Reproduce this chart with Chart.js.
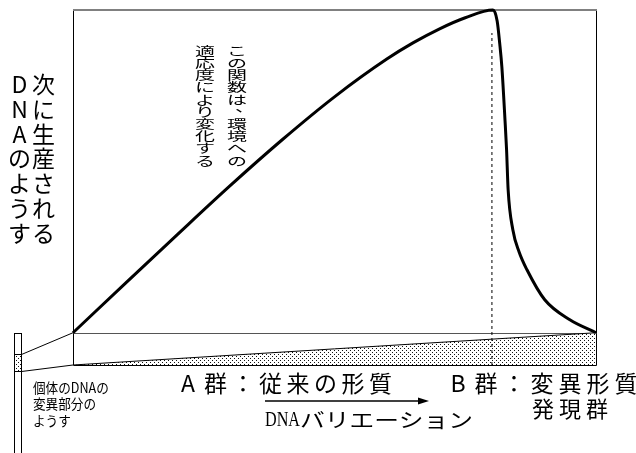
<!DOCTYPE html>
<html><head><meta charset="utf-8">
<script src="https://cdn.jsdelivr.net/npm/chart.js@4/dist/chart.umd.min.js"></script>
<style>html,body{margin:0;padding:0;background:#fff;}canvas{display:block;}</style>
</head><body>
<canvas id="c" width="636" height="453"></canvas>
<script>
// ---- data ----
const curveX = [0, 10, 20, 30, 40, 50, 60, 65, 70, 75, 80.3, 81.1, 81.6, 82.0, 82.6, 82.9, 83.2, 84.1, 85.3, 86.8, 90.2, 95.0, 100];
const curveY = [0, 15.3, 30.5, 45.5, 59.8, 73.1, 84.8, 89.8, 94.1, 97.6, 100, 96.6, 89.5, 82.4, 65.9, 56.7, 44.3, 31.9, 25.0, 19.5, 10.2, 4.0, 0];
const peakLineX = [80.1, 80.1];
const peakLineY = [-10, 92.9];
const wedgeX = [0, 100];
const wedgeY = [-10, 0];
const xRange = [0, 100];
const yRange = [-10, 100];

// ---- texts ----
const leftCols = ['次に生産される', 'DNAのようす'];
const noteCols = ['この関数は、環境への', '適応度により変化する'];
const groupA = 'A群：従来の形質';
const groupB = 'B群：変異形質';
const groupB2 = '発現群';
const axisLatin = 'DNA';
const axisKana = 'バリエーション';
const insetLines = ['個体のDNAの', '変異部分の', 'ようす'];

const JP = '"Noto Sans CJK JP", "Noto Sans CJK SC", sans-serif';
const canvas = document.getElementById('c');
const mainCtx = canvas.getContext('2d');

function makePattern() {
  const t = document.createElement('canvas');
  t.width = 4; t.height = 4;
  const g = t.getContext('2d');
  g.fillStyle = '#fff'; g.fillRect(0, 0, 4, 4);
  g.fillStyle = '#111';
  g.fillRect(0, 0, 1, 1); g.fillRect(2, 2, 1, 1);
  return mainCtx.createPattern(t, 'repeat');
}
const dots = makePattern();

function seg(ctx, x1, y1, x2, y2) {
  ctx.beginPath(); ctx.moveTo(x1, y1); ctx.lineTo(x2, y2); ctx.stroke();
}

const decor = {
  id: 'decor',
  beforeDatasetsDraw(chart) {
    const { ctx, scales: { x, y } } = chart;
    const X = v => Math.round(x.getPixelForValue(v)) + 0.5;
    const Y = v => Math.round(y.getPixelForValue(v)) + 0.5;
    ctx.save();
    ctx.lineWidth = 1;
    ctx.strokeStyle = '#000';
    seg(ctx, X(0), Y(-10), X(0), Y(100));
    seg(ctx, X(100), Y(-10), X(100), Y(100));
    seg(ctx, X(0), Y(-10), X(100), Y(-10));
    ctx.strokeStyle = '#555';
    seg(ctx, X(0), Y(0), X(100), Y(0));
    ctx.strokeStyle = '#808080';
    ctx.lineWidth = 2;
    const ty = Math.round(y.getPixelForValue(100));
    seg(ctx, X(0) - 0.5, ty, X(100) + 0.5, ty);
    ctx.restore();
  },
  afterDraw(chart) {
    const { ctx, scales: { x, y } } = chart;
    ctx.save();
    ctx.fillStyle = '#000';
    ctx.strokeStyle = '#000';
    ctx.lineWidth = 1;

    // inset bar on the left
    ctx.fillStyle = dots;
    ctx.fillRect(15, 354, 6, 17);
    ctx.strokeRect(14.5, 333.5, 7, 130);
    seg(ctx, 14.5, 354.5, 21.5, 354.5);
    seg(ctx, 14.5, 371.5, 21.5, 371.5);
    seg(ctx, 21.5, 354.5, x.getPixelForValue(0), y.getPixelForValue(0));
    seg(ctx, 21.5, 371.5, x.getPixelForValue(0), y.getPixelForValue(-10));
    ctx.fillStyle = '#000';

    // vertical left text
    ctx.textAlign = 'center';
    ctx.textBaseline = 'middle';
    ctx.font = '23px ' + JP;
    const colX = [43.5, 19.5];
    leftCols.forEach((txt, c) => {
      [...txt].forEach((ch, i) => ctx.fillText(ch, colX[c], 84 + i * 24.9));
    });

    // vertical note text (squeezed vertically)
    ctx.font = '20px ' + JP;
    const noteX = [237, 205];
    noteCols.forEach((txt, c) => {
      [...txt].forEach((ch, i) => {
        ctx.save();
        let dx = 0, dy = 0;
        if (ch === '、') { dx = 8; dy = -5; }
        ctx.translate(noteX[c] + dx, 51 + i * 12.2 + dy);
        ctx.scale(1, 0.62);
        ctx.fillText(ch, 0, 0);
        ctx.restore();
      });
    });

    // group labels
    ctx.font = '23px ' + JP;
    const drawChars = (txt, x0, adv, yy) => {
      [...txt].forEach((ch, i) => ctx.fillText(ch, x0 + i * adv, yy));
    };
    drawChars(groupA, 188, 27.5, 383);
    drawChars(groupB, 458, 28, 383);
    ctx.font = '22px ' + JP;
    drawChars(groupB2, 543, 27, 409);

    // arrow
    ctx.lineWidth = 1.5;
    seg(ctx, 265, 401, 420, 401);
    ctx.beginPath();
    ctx.moveTo(429, 401); ctx.lineTo(418, 397.5); ctx.lineTo(418, 404.5); ctx.closePath();
    ctx.fill();

    // axis caption
    const fit = (txt, x0, yy, w, font) => {
      ctx.font = font;
      const m = ctx.measureText(txt).width;
      ctx.save();
      ctx.translate(x0, yy);
      ctx.scale(w / m, 1);
      ctx.textAlign = 'left';
      ctx.fillText(txt, 0, 0);
      ctx.restore();
    };
    fit(axisLatin, 265, 421, 35, '20px "Liberation Serif", serif');
    fit(axisKana, 300, 420, 173, '20px ' + JP);

    // inset caption
    ctx.textAlign = 'left';
    ctx.font = '14px ' + JP;
    const lineY = [388, 404, 421];
    insetLines.forEach((t, i) => {
      ctx.save();
      ctx.translate(33, lineY[i]);
      ctx.scale(0.9, 1);
      ctx.fillText(t, 0, 0);
      ctx.restore();
    });
    ctx.restore();
  }
};

const pts = (xs, ys) => xs.map((v, i) => ({ x: v, y: ys[i] }));

new Chart(canvas, {
  type: 'scatter',
  data: {
    datasets: [
      {
        data: pts(curveX, curveY),
        showLine: true,
        borderColor: '#000',
        borderWidth: 3,
        pointRadius: 0,
        cubicInterpolationMode: 'monotone',
        fill: false,
        clip: false,
        order: 0
      },
      {
        data: pts(peakLineX, peakLineY),
        showLine: true,
        borderColor: '#000',
        borderWidth: 1,
        borderDash: [3, 3],
        pointRadius: 0,
        fill: false,
        order: 1
      },
      {
        data: pts(wedgeX, wedgeY),
        showLine: true,
        borderColor: '#000',
        borderWidth: 1,
        pointRadius: 0,
        backgroundColor: dots,
        fill: { value: -10 },
        order: 2
      }
    ]
  },
  options: {
    responsive: false,
    animation: false,
    devicePixelRatio: 1,
    layout: { padding: { left: 73, top: 10, right: 40, bottom: 88 } },
    plugins: { legend: { display: false }, tooltip: { enabled: false } },
    scales: {
      x: { type: 'linear', min: xRange[0], max: xRange[1], display: false },
      y: { type: 'linear', min: yRange[0], max: yRange[1], display: false }
    }
  },
  plugins: [decor]
});
</script>
</body></html>
